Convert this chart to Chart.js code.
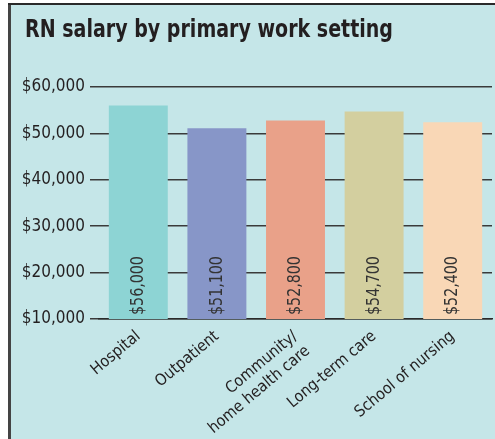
<!DOCTYPE html>
<html lang="en">
<head>
  <meta charset="UTF-8">
  <title>RN salary by primary work setting</title>
  <script src="https://cdn.jsdelivr.net/npm/chart.js"></script>
  <style>
    body { margin: 0; background: #fff; }
    #wrap { width: 495px; height: 439px; }
  </style>
</head>
<body>
  <div id="wrap"><canvas id="salaryChart" width="495" height="439"></canvas></div>

  <script>
    const chartTitle = "RN salary by primary work setting";
    const settings = ["Hospital", "Outpatient", ["Community/", "home health care"], "Long-term care", "School of nursing"];
    const salaries = [56000, 51100, 52800, 54700, 52400];
    const valueLabels = ["$56,000", "$51,100", "$52,800", "$54,700", "$52,400"];
    const barColors = ["#8dd4d4", "#8796c8", "#e9a189", "#d3cf9f", "#f9d7b6"];

    const narrow = "'Liberation Sans Narrow', 'DejaVu Sans Condensed', sans-serif";

    // panel background + frame + title
    const panel = {
      id: 'panel',
      beforeDraw(chart) {
        const c = chart.ctx;
        c.save();
        c.fillStyle = '#fff';
        c.fillRect(0, 0, chart.width, chart.height);
        c.fillStyle = '#c5e6e8';
        c.fillRect(10, 5, chart.width - 10, chart.height - 5);
        c.fillStyle = '#444';
        c.fillRect(8, 3, 3, chart.height - 3);
        c.fillStyle = '#2a2a2a';
        c.fillRect(8, 3, chart.width - 8, 2);
        c.fillStyle = '#231f20';
        c.font = "bold 24px " + narrow;
        c.textBaseline = 'alphabetic';
        // squeeze the title to the condensed width of the original
        const w = c.measureText(chartTitle).width;
        c.translate(25, 37);
        c.scale(368 / w, 1);
        c.fillText(chartTitle, 0, 0);
        c.restore();
      }
    };

    // values written up the inside of each bar
    const barValues = {
      id: 'barValues',
      afterDatasetsDraw(chart) {
        const c = chart.ctx;
        const bottom = chart.chartArea.bottom;
        chart.getDatasetMeta(0).data.forEach((bar, i) => {
          c.save();
          c.translate(bar.x, bottom - 4);
          c.rotate(-Math.PI / 2);
          c.scale(0.88, 1);
          c.fillStyle = '#333';
          c.font = "18px " + narrow;
          c.textAlign = 'left';
          c.textBaseline = 'middle';
          c.fillText(valueLabels[i], 0, 0);
          c.restore();
        });
      }
    };

    new Chart(document.getElementById('salaryChart'), {
      type: 'bar',
      data: {
        labels: settings,
        datasets: [{
          data: salaries,
          backgroundColor: barColors,
          barPercentage: 0.75,
          categoryPercentage: 1
        }]
      },
      options: {
        responsive: false,
        animation: false,
        layout: { padding: { top: 87, right: 3, left: 0, bottom: 0 } },
        plugins: { legend: { display: false }, tooltip: { enabled: false } },
        scales: {
          x: {
            grid: { display: false },
            border: { display: true, color: '#2a2a2a', width: 1.5 },
            ticks: {
              color: '#231f20',
              font: { family: narrow, size: 16 },
              maxRotation: 40,
              minRotation: 40,
              padding: 0
            },
            afterFit(scale) { scale.height = 120; }
          },
          y: {
            min: 10000,
            max: 60000,
            border: { display: false },
            grid: { color: '#3a3a3a', lineWidth: 1.5, tickLength: 9 },
            ticks: {
              stepSize: 10000,
              color: '#231f20',
              padding: 5,
              font: { family: narrow, size: 17 },
              callback: v => '$' + v.toLocaleString('en-US')
            },
            afterFit(scale) { scale.width = 99; }
          }
        }
      },
      plugins: [panel, barValues]
    });
  </script>
</body>
</html>
